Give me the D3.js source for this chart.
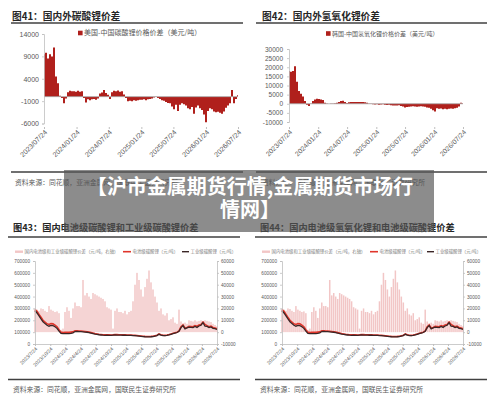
<!DOCTYPE html>
<html><head><meta charset="utf-8">
<script src="https://cdn.jsdelivr.net/npm/d3@7"></script>
<style>body{margin:0;background:#fff}svg{display:block}</style>
</head><body><svg id="c" width="500" height="403"></svg>
<script>
// ---------------- DATA ----------------
const usChinaSpread = [9500,9800,8500,9500,9000,11000,4500,3000,200,-300,
-1500,-400,1000,1300,1200,1200,1100,1300,1100,1200,
-300,-1300,-600,-800,-600,-500,-700,-400,700,900,
1500,800,400,-500,1000,1300,1200,1400,1100,1200,
500,-300,-1000,-900,-1000,-800,-900,-800,-700,-700,
-600,-800,-600,-500,-400,-200,-100,-300,-500,-800,
-900,-1200,-1400,-1500,-2200,-2800,-1800,-3200,-1800,-1500,
-1700,-2000,-2600,-2800,-2300,-3800,-2400,-2000,-2600,-3000,
-4000,-5700,-3200,-2600,-2800,-3300,-3500,-3400,-3600,-3800,
-3300,-2500,-2000,-1500,1500,-1500,-500,300];

const koreaChinaSpread = [18000,17500,18000,20500,12000,7000,5500,4000,1500,-500,
-1200,200,1500,2300,2800,2600,2300,2000,500,100,
0,100,200,300,600,1000,1500,1600,1000,400,
800,1000,1000,900,1000,1000,1000,900,800,600,
200,-200,-300,-400,-300,-500,-400,-300,-500,-700,
-600,-800,-900,-1000,-1000,-800,-1200,-1500,-2000,-1800,
-1600,-1500,-1400,-1500,-1600,-1500,-1400,-1500,-1700,-2000,
-2200,-2800,-3500,-4200,-2500,-2800,-2600,-3000,-2800,-3000,
-2800,-2600,-2800,-2500,-2200,-1500,500,300];

const gradeSpread = [20000,19000,18000,20000,19500,18000,17000,22000,19000,18000,
17000,17500,16000,2000,3000,17000,21000,18000,12000,20000,
25000,22000,22000,21000,44000,31000,33000,30000,28000,33000,
32000,31000,30000,29000,28000,26000,21000,20000,19000,3000,
18000,20000,17000,17000,16000,18000,15000,17000,18000,26000,
40000,50000,44000,36000,30000,38000,45000,52000,42000,36000,
30000,25000,18000,20000,15000,14000,16000,10000,11000,12500,
8000,7000,19000,9000,7500,8000,7000,10000,9500,9000,
10000,9000,9500,10000,9000,10000,9500,9000,8500,7000,
6000,5000];

const batteryCarbonate = [290000,275000,250000,225000,200000,185000,170000,165000,172000,170000,
160000,145000,120000,100000,97000,98000,98000,98000,100000,102000,
112000,112000,110000,110000,108000,106000,103000,100000,96000,92000,
88000,85000,82000,80000,78000,77000,78000,77000,75000,77000,
80000,79000,78000,78000,77000,77000,76000,76000,75000,74000,
73000,72000,70000,68000,66000,64000,63000,63000,64000,66000,
70000,74000,85000,78000,74000,73000,76000,80000,85000,90000,
95000,100000,110000,145000,160000,135000,140000,150000,148000,145000,
155000,150000,160000,165000,185000,165000,155000,145000,150000,140000,
135000,128000];

const industrialCarbonate = [280000,262000,238000,212000,188000,172000,158000,150000,156000,155000,
146000,132000,108000,90000,87000,87000,87000,88000,90000,94000,
105000,106000,105000,105000,103000,101000,99000,96000,92000,88000,
84000,81000,78000,76000,74000,73000,74000,73000,72000,74000,
76000,75000,75000,75000,74000,74000,73000,73000,72000,71000,
70000,69000,67000,65000,63000,61000,60000,60000,61000,63000,
67000,71000,82000,75000,71000,70000,73000,77000,82000,87000,
92000,97000,107000,138000,155000,128000,136000,142000,140000,138000,
148000,140000,152000,158000,180000,150000,148000,138000,144000,132000,
130000,122000];

const halfYearTicks = ["2023/07/24","2024/01/24","2024/07/24","2025/01/24","2025/07/24","2026/01/24","2026/07/24"];
const quarterTicks = ["2023/7/24","2023/10/24","2024/1/24","2024/4/24","2024/7/24","2024/10/24","2025/1/24","2025/4/24","2025/7/24","2025/10/24","2026/1/24","2026/4/24","2026/7/24"];
const yTicks41 = [-6000,-1000,4000,9000,14000];
const yTicks42 = [-10000,-5000,0,5000,10000,15000,20000,25000,30000];
const yLeftTicks = [0,100000,200000,300000,400000,500000,600000,700000];
const yRightTicks = [-10000,0,10000,20000,30000,40000,50000,60000];

const titles = ["图41：国内外碳酸锂价差","图42：国内外氢氧化锂价差","图43：国内电池级碳酸锂和工业级碳酸锂价差","图44：国内电池级氢氧化锂和电池级碳酸锂价差"];
const legend41 = "美国-中国碳酸锂价格价差（美元/吨）";
const legend42 = "韩国-中国氢氧化锂价格价差（美元/吨）";
const legendGrade = ["国内电池级和工业级碳酸锂价差（元/吨，右轴）","电池级碳酸锂（元/吨）","工业级碳酸锂（元/吨）"];
const sourceText = "资料来源：同花顺，亚洲金属网，国联民生证券研究所";
const bannerLines = ["【沪市金属期货行情,金属期货市场行","情网】"];

// ---------------- DRAW ----------------
const svg = d3.select("#c");
const CN = "'Noto Sans CJK SC','Noto Sans',sans-serif";
const NUM = "'Liberation Sans',Arial,sans-serif";
const parse = d3.timeParse("%Y/%m/%d");
const start = parse("2023/07/24"), end = parse("2026/07/24");
const seriesDates = n => d3.range(n).map(i => new Date(+start + (end - start) * i / (n - 1)));
svg.append("rect").attr("width",500).attr("height",403).attr("fill","#fff");

function frame(o){
  svg.append("text").attr("x",o.tx).attr("y",o.ty).text(o.title)
    .attr("font-family",CN).attr("font-weight",700).attr("font-size",o.tfs).attr("fill","#262626");
  svg.append("line").attr("x1",o.lx0).attr("x2",o.lx1).attr("y1",o.uy).attr("y2",o.uy)
    .attr("stroke","#404040").attr("stroke-width",1.4);
  svg.append("line").attr("x1",o.lx0).attr("x2",o.lx1).attr("y1",o.sy).attr("y2",o.sy)
    .attr("stroke","#404040").attr("stroke-width",1.4);
  svg.append("text").attr("x",o.sx).attr("y",o.sty).text(sourceText)
    .attr("font-family",CN).attr("font-size",6.8).attr("fill","#595959");
}

function styleAxis(g, fs){
  g.select(".domain").attr("stroke","#bfbfbf").attr("stroke-width",0.8);
  g.selectAll(".tick line").attr("stroke","#bfbfbf").attr("stroke-width",0.8);
  g.selectAll("text").attr("font-family",NUM).attr("font-size",fs).attr("fill","#595959");
}

function spreadChart(o){
  const x = d3.scaleTime().domain([start,end]).range([o.x0,o.x1]);
  const y = d3.scaleLinear().domain(o.yDomain).range([o.yB,o.yT]);
  const dates = seriesDates(o.values.length);
  const area = d3.area().x((d,i)=>x(dates[i])).y0(y(0)).y1(d=>y(d)).curve(d3.curveStep);
  svg.append("path").datum(o.values).attr("d",area).attr("fill","#b0201c");
  svg.append("line").attr("x1",o.x0).attr("x2",o.x1).attr("y1",y(0)).attr("y2",y(0))
    .attr("stroke","#a6a6a6").attr("stroke-width",0.8);
  const ga = svg.append("g").attr("transform",`translate(${o.x0},0)`)
    .call(d3.axisLeft(y).tickValues(o.yTicks).tickSize(2).tickPadding(o.pad).tickFormat(d=>String(d)));
  styleAxis(ga,o.fs);
  const gx = svg.append("g").attr("transform",`translate(0,${o.xAxisY})`)
    .call(d3.axisBottom(x).tickValues(halfYearTicks.map(parse)).tickSize(2).tickFormat(""));
  gx.select(".domain").remove();
  gx.selectAll(".tick line").attr("stroke","#bfbfbf");
  svg.append("g").selectAll("text").data(halfYearTicks).join("text")
    .attr("transform",d=>`translate(${x(parse(d))+2},${o.xAxisY+4}) rotate(-45)`)
    .attr("text-anchor","end").attr("dy","0.35em").text(d=>d)
    .attr("font-family",NUM).attr("font-size",o.xfs).attr("fill","#595959");
  svg.append("rect").attr("x",o.lgx).attr("y",o.lgy-2.3).attr("width",4.6).attr("height",4.6).attr("fill","#b0201c");
  svg.append("text").attr("x",o.lgx+6).attr("y",o.lgy).attr("dy","0.35em").text(o.legend)
    .attr("font-family",CN).attr("font-size",o.lfs).attr("fill","#595959");
}

function gradeChart(o){
  const x = d3.scaleTime().domain([start,end]).range([o.x0,o.x1]);
  const yL = d3.scaleLinear().domain([0,700000]).range([344,261]);
  const yR = d3.scaleLinear().domain([-10000,60000]).range([344,261]);
  const dates = seriesDates(gradeSpread.length);
  svg.append("g").selectAll("rect").data(gradeSpread).join("rect")
    .attr("x",(d,i)=>x(dates[i])-0.75).attr("width",1.5)
    .attr("y",d=>yR(Math.max(d,0))).attr("height",d=>Math.abs(yR(d)-yR(0)))
    .attr("fill","#f2c6c6");
  const line = d3.line().x((d,i)=>x(dates[i])).y(d=>yL(d));
  svg.append("path").datum(batteryCarbonate).attr("d",line).attr("fill","none")
    .attr("stroke","#e0352b").attr("stroke-width",1.6);
  svg.append("path").datum(industrialCarbonate).attr("d",line).attr("fill","none")
    .attr("stroke","#3b2626").attr("stroke-width",1.3);
  const gl = svg.append("g").attr("transform",`translate(${o.x0},0)`)
    .call(d3.axisLeft(yL).tickValues(yLeftTicks).tickSize(2).tickPadding(3).tickFormat(d=>String(d)));
  styleAxis(gl,4.7);
  const gr = svg.append("g").attr("transform",`translate(${o.x1},0)`)
    .call(d3.axisRight(yR).tickValues(yRightTicks).tickSize(2).tickPadding(2).tickFormat(d=>String(d)));
  styleAxis(gr,4.7);
  const gx = svg.append("g").attr("transform",`translate(0,344)`)
    .call(d3.axisBottom(x).tickValues(quarterTicks.map(parse)).tickSize(2).tickFormat(""));
  gx.select(".domain").attr("stroke","#bfbfbf").attr("stroke-width",0.8);
  gx.selectAll(".tick line").attr("stroke","#bfbfbf");
  svg.append("g").selectAll("text").data(quarterTicks).join("text")
    .attr("transform",d=>`translate(${x(parse(d))+1.5},${348}) rotate(-45)`)
    .attr("text-anchor","end").attr("dy","0.35em").text(d=>d)
    .attr("font-family",NUM).attr("font-size",5).attr("fill","#595959");
  // legend
  const ly = 251.7;
  svg.append("line").attr("x1",o.lg[0]).attr("x2",o.lg[0]+8).attr("y1",ly).attr("y2",ly).attr("stroke","#f2c6c6").attr("stroke-width",2.4);
  svg.append("line").attr("x1",o.lg[1]).attr("x2",o.lg[1]+8).attr("y1",ly).attr("y2",ly).attr("stroke","#e0352b").attr("stroke-width",1.6);
  svg.append("line").attr("x1",o.lg[2]).attr("x2",o.lg[2]+7).attr("y1",ly).attr("y2",ly).attr("stroke","#3b2626").attr("stroke-width",1.4);
  legendGrade.forEach((t,i)=>{
    svg.append("text").attr("x",o.lg[i]+(i==2?8.5:9.5)).attr("y",ly).attr("dy","0.35em").text(t)
      .attr("font-family",CN).attr("font-size",4.4).attr("fill","#7f7f7f");
  });
}

// frames
frame({title:titles[0],tx:12,ty:19.5,tfs:9.7,lx0:11,lx1:243,uy:23,sy:172,sx:15,sty:184.5});
frame({title:titles[1],tx:262,ty:19.5,tfs:9.7,lx0:256,lx1:487,uy:23,sy:172,sx:262,sty:184.5});
frame({title:titles[2],tx:13,ty:230.5,tfs:9.2,lx0:8,lx1:240,uy:237,sy:379.5,sx:13,sty:391.5});
frame({title:titles[3],tx:260,ty:230.5,tfs:9.2,lx0:255,lx1:487,uy:237,sy:379.5,sx:260,sty:391.5});

spreadChart({values:usChinaSpread,x0:44,x1:238,yDomain:[-6000,14000],yB:123.5,yT:34,yTicks:yTicks41,
  pad:3,fs:7,xAxisY:127,xfs:7,legend:legend41,lgx:78,lgy:33,lfs:7});
spreadChart({values:koreaChinaSpread,x0:289,x1:463,yDomain:[-10000,30000],yB:122,yT:49,yTicks:yTicks42,
  pad:4,fs:6.5,xAxisY:127,xfs:6.8,legend:legend42,lgx:326,lgy:33.5,lfs:6});

gradeChart({x0:35,x1:217,lg:[15,123,182]});
gradeChart({x0:282,x1:463,lg:[262,370,427]});

// banner overlay
svg.append("rect").attr("x",64).attr("y",170).attr("width",370).attr("height",62)
  .attr("fill","rgba(85,85,85,0.68)");
bannerLines.forEach((t,i)=>{
  svg.append("text").attr("x",250).attr("y",194+i*23).attr("text-anchor","middle").text(t)
    .attr("font-family",CN).attr("font-weight",700).attr("font-size",20).attr("fill","#fff");
});
</script></body></html>
